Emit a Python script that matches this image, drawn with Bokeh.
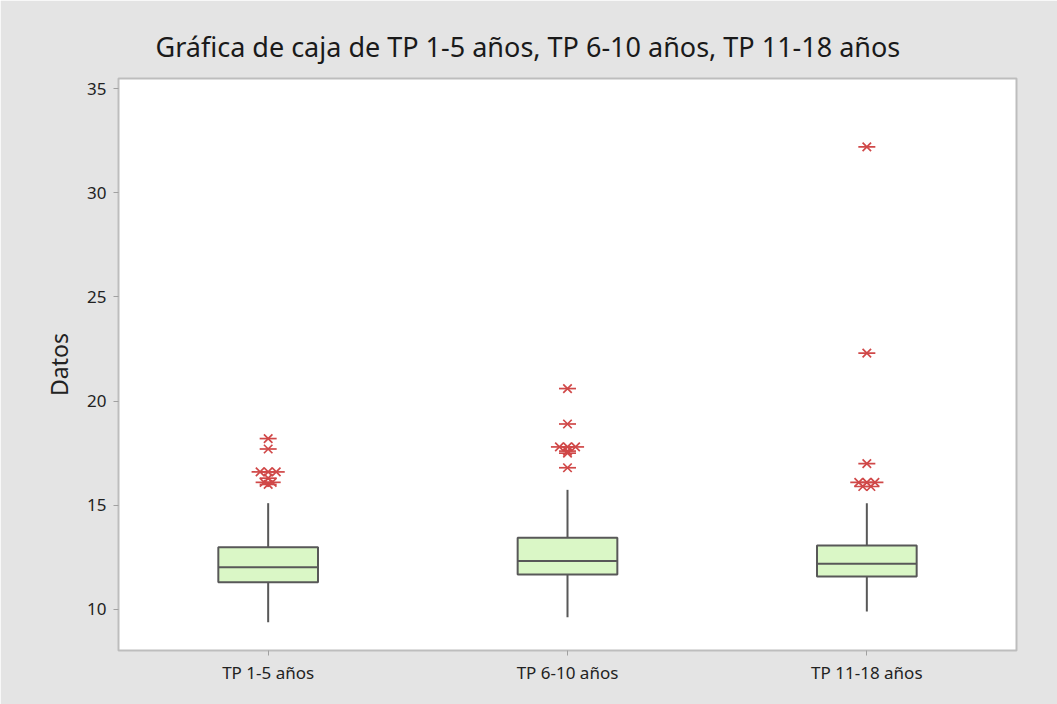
import collections
from bokeh.plotting import figure
from bokeh.models import ColumnDataSource, FactorRange, Range1d, FixedTicker
from bokeh.transform import dodge
from bokeh.embed import file_html
from bokeh.resources import INLINE

categories = ["TP 1-5 años", "TP 6-10 años", "TP 11-18 años"]
q1 = [11.31, 11.68, 11.58]
median = [12.03, 12.32, 12.19]
q3 = [12.99, 13.44, 13.07]
whisker_low = [9.39, 9.63, 9.90]
whisker_high = [15.10, 15.74, 15.10]

outliers_1 = [18.2, 17.7, 16.6, 16.6, 16.6, 16.3, 16.1, 16.1, 16.0]
outliers_2 = [20.6, 18.9, 17.8, 17.8, 17.8, 17.6, 17.5, 16.8]
outliers_3 = [32.2, 22.3, 17.0, 16.1, 16.1, 16.1, 15.9, 15.9]
outliers = [outliers_1, outliers_2, outliers_3]

y_ticks = [10, 15, 20, 25, 30, 35]

FONT = "Noto Sans"
W, H = 1057, 704

p = figure(width=W, height=H, x_range=FactorRange(*categories),
           y_range=Range1d(8.03, 35.48), output_backend="svg", toolbar_location=None,
           min_border_left=118, min_border_right=41, min_border_top=78, min_border_bottom=54)
p.x_range.factor_padding = 0
p.x_range.range_padding = 0

p.background_fill_color = "white"
p.border_fill_color = "#e4e4e4"
p.outline_line_color = "#bdbdbd"
p.outline_line_width = 2
p.grid.visible = False

p.title.text = "Gráfica de caja de TP 1-5 años, TP 6-10 años, TP 11-18 años"
p.title.align = "left"
p.title.offset = 37
p.title.text_font = FONT
p.title.text_font_size = "27px"
p.title.text_font_style = "normal"
p.title.text_color = "#1a1a1a"
p.title.standoff = 27

src = ColumnDataSource(dict(cat=categories, q1=q1, med=median, q3=q3,
                            lo=whisker_low, hi=whisker_high))

line_col = "#585858"
p.segment(x0="cat", x1="cat", y0="lo", y1="q1", source=src, line_color=line_col, line_width=2)
p.segment(x0="cat", x1="cat", y0="q3", y1="hi", source=src, line_color=line_col, line_width=2)
p.vbar(x="cat", width=0.333, bottom="q1", top="q3", source=src,
       fill_color="#daf7c6", line_color=line_col, line_width=2)
p.segment(x0=dodge("cat", -0.1665, range=p.x_range), x1=dodge("cat", 0.1665, range=p.x_range),
          y0="med", y1="med", source=src, line_color=line_col, line_width=2)

# outliers: tied values are spread sideways, as the original software does
ocol = "#d04848"
groups = collections.defaultdict(lambda: ([], []))
for cat, vals in zip(categories, outliers):
    counts = collections.Counter(vals)
    seen = collections.Counter()
    for v in vals:
        n = counts[v]
        k = seen[v]
        seen[v] += 1
        off = round((k - (n - 1) / 2) * 0.027, 4)
        groups[off][0].append(cat)
        groups[off][1].append(v)
for off, (cs, vs) in groups.items():
    s = ColumnDataSource(dict(cat=cs, y=vs))
    p.scatter(x=dodge("cat", off, range=p.x_range), y="y", source=s, marker="dash",
              size=17, line_color=ocol, line_width=1.7)
    p.scatter(x=dodge("cat", off, range=p.x_range), y="y", source=s, marker="x",
              size=12, line_color=ocol, line_width=1.7)

for ax in (p.xaxis[0], p.yaxis[0]):
    ax.axis_line_color = None
    ax.major_tick_line_color = "#a0a0a0"
    ax.major_tick_line_width = 1
    ax.major_tick_out = 5
    ax.major_tick_in = 0
    ax.minor_tick_line_color = None
    ax.major_label_text_font = FONT
    ax.major_label_text_font_size = "17px"
    ax.major_label_text_color = "#222222"

p.yaxis.ticker = FixedTicker(ticks=y_ticks)
p.yaxis.major_label_standoff = 7
p.xaxis.major_label_standoff = 5
p.yaxis.axis_label = "Datos"
p.yaxis.axis_label_text_font = FONT
p.yaxis.axis_label_text_font_size = "23px"
p.yaxis.axis_label_text_font_style = "normal"
p.yaxis.axis_label_text_color = "#222222"
p.yaxis.axis_label_standoff = 9

open("out.html", "w").write(file_html(p, INLINE))
